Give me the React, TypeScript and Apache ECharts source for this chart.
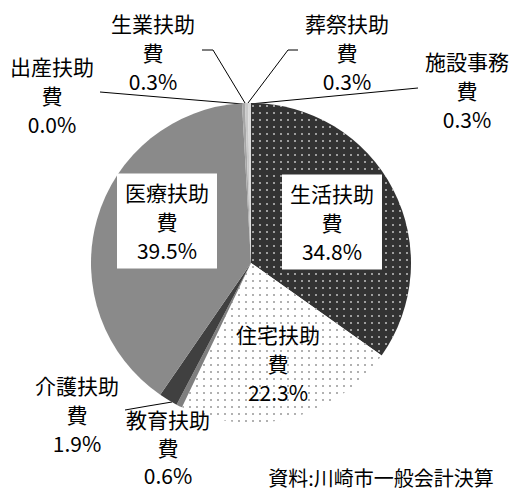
import React, { useEffect, useRef } from "react";
import * as echarts from "echarts";

const categories = [
  "生活扶助費",
  "住宅扶助費",
  "教育扶助費",
  "介護扶助費",
  "医療扶助費",
  "出産扶助費",
  "生業扶助費",
  "葬祭扶助費",
  "施設事務費",
];
const shares = [34.8, 22.3, 0.6, 1.9, 39.5, 0.0, 0.3, 0.3, 0.3];
const sourceNote = "資料:川崎市一般会計決算";

const sliceColors = ["#333333", "#ffffff", "#7f7f7f", "#404040", "#8a8a8a", "#bdbdbd", "#a6a6a6", "#c8c8c8", "#dadada"];
const boxed = [true, false, false, false, true, false, false, false, false];
const withLine = [false, false, false, true, false, true, true, true, true];
const labelPos: number[][] = [
  [332, 222],
  [278, 363],
  [168, 447],
  [77, 414],
  [167, 221],
  [52, 95],
  [153, 52],
  [347, 52],
  [467, 90],
];
const linePts: (number[][] | null)[] = [
  null,
  null,
  null,
  [[172, 402], [148, 406], [125, 410]],
  null,
  [[243, 104], [171, 98], [100, 92]],
  [[245, 103], [213, 50], [202, 50]],
  [[248, 103], [288, 50], [298, 50]],
  [[250, 104], [334, 96], [418, 88]],
];

const FONT = '"Noto Sans CJK JP", "Noto Sans", sans-serif';

export default function App() {
  const ref = useRef<HTMLDivElement>(null);
  useEffect(() => {
    if (!ref.current) return;
    const chart = echarts.init(ref.current, undefined, { renderer: "svg" });
    const decals: any[] = [
      {
        symbol: "rect",
        symbolSize: 0.7,
        color: "#ffffff",
        dashArrayX: [1.6, 5],
        dashArrayY: [1.6, 5],
      },
      {
        symbol: "rect",
        symbolSize: 0.7,
        color: "#6a6a6a",
        dashArrayX: [1.5, 4.6],
        dashArrayY: [1.5, 4.6],
      },
    ];
    const data = categories.map((name, i) => ({
      name,
      value: shares[i],
      itemStyle: {
        color: sliceColors[i],
        ...(i < 2 ? { decal: decals[i] } : {}),
      },
      label: boxed[i]
        ? { backgroundColor: "#ffffff", padding: [4, 8] }
        : i === 2
        ? { lineHeight: 28 }
        : {},
      labelLine: { show: withLine[i] },
    }));
    chart.setOption({
      animation: false,
      backgroundColor: "#ffffff",
      graphic: [
        {
          type: "text",
          x: 381,
          y: 477,
          style: {
            text: sourceNote,
            font: `20px ${FONT}`,
            fill: "#000",
            align: "center",
            verticalAlign: "middle",
          },
        },
      ],
      series: [
        {
          type: "pie",
          center: [251, 263],
          radius: 160,
          startAngle: 90,
          clockwise: true,
          avoidLabelOverlap: false,
          data,
          itemStyle: { borderWidth: 0 },
          emphasis: { disabled: true },
          label: {
            show: true,
            position: "outside",
            overflow: "none",
            color: "#000",
            fontFamily: FONT,
            fontSize: 21,
            lineHeight: 29,
            align: "center",
            formatter: (p: any) =>
              `${p.name.slice(0, 4)}\n${p.name.slice(4)}\n${Number(p.value).toFixed(1)}%`,
          },
          labelLine: {
            show: true,
            lineStyle: { color: "#000", width: 1 },
          },
          labelLayout: (p: any) => {
            const i = p.dataIndex;
            const out: any = {
              x: labelPos[i][0],
              y: labelPos[i][1],
              align: "center",
              verticalAlign: "middle",
            };
            if (linePts[i]) out.labelLinePoints = linePts[i];
            return out;
          },
        },
      ],
    });
    return () => chart.dispose();
  }, []);
  return (
    <div
      ref={ref}
      style={{ position: "fixed", left: 0, top: 0, width: 516, height: 490 }}
    />
  );
}
